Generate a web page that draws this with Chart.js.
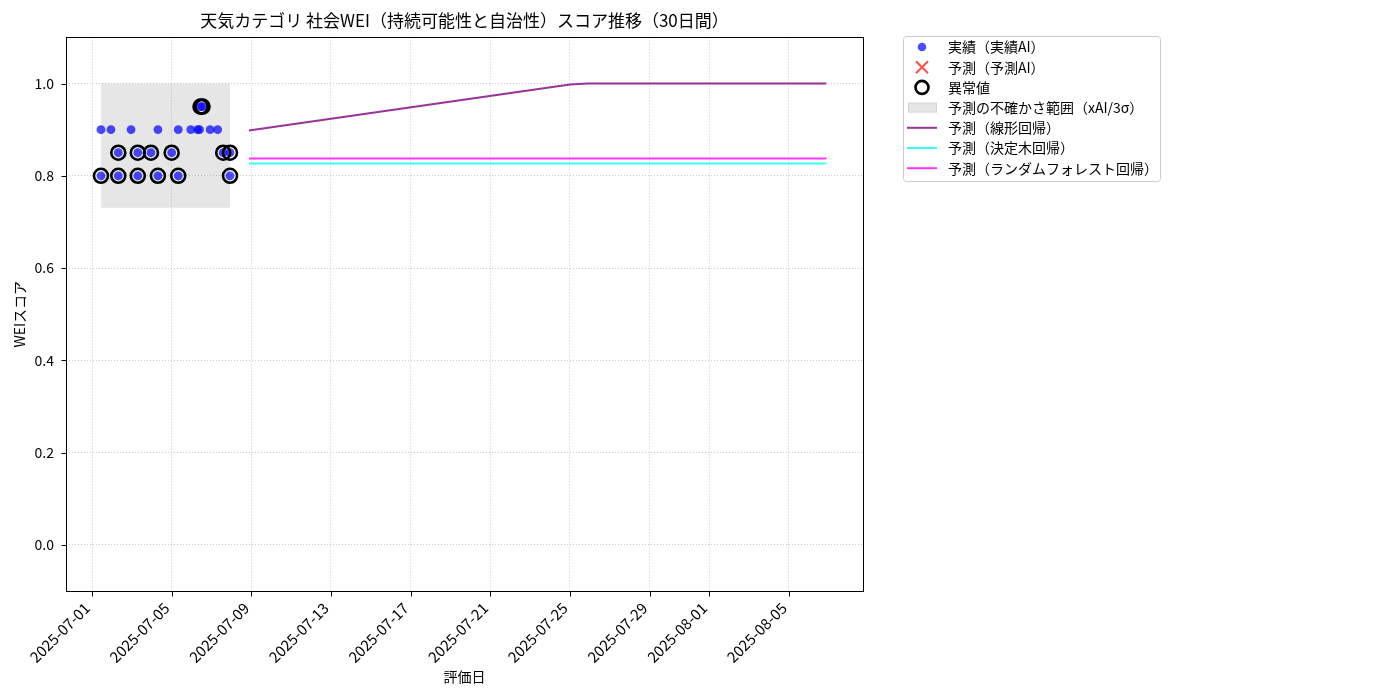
<!DOCTYPE html>
<html><head><meta charset="utf-8">
<script src="https://cdn.jsdelivr.net/npm/chart.js@4"></script>
<style>html,body{margin:0;padding:0;background:#fff}</style>
</head><body>
<canvas id="c" width="1400" height="700" style="display:block;width:1400px;height:700px"></canvas>
<script>
const chartTitle = "天気カテゴリ 社会WEI（持続可能性と自治性）スコア推移（30日間）";
const xAxisTitle = "評価日";
const yAxisTitle = "WEIスコア";
// x values are days counted from 2025-07-01
const xTickDays = [0, 4, 8, 12, 16, 20, 24, 28, 31, 35];
const xTickLabels = ["2025-07-01","2025-07-05","2025-07-09","2025-07-13","2025-07-17","2025-07-21","2025-07-25","2025-07-29","2025-08-01","2025-08-05"];
const yTicks = [0.0, 0.2, 0.4, 0.6, 0.8, 1.0];

const actualDays   = [0.45, 0.45, 0.95, 1.32, 1.32, 1.96, 2.30, 2.30, 2.96, 3.31, 3.31, 4.00, 4.33, 4.33, 4.96, 5.30, 5.40, 5.45, 5.55, 5.93, 6.31, 6.59, 6.93, 6.93];
const actualScores = [0.90, 0.80, 0.90, 0.85, 0.80, 0.90, 0.85, 0.80, 0.85, 0.90, 0.80, 0.85, 0.90, 0.80, 0.90, 0.90, 0.90, 0.95, 0.95, 0.90, 0.90, 0.85, 0.85, 0.80];

const anomalyDays   = [0.45, 1.32, 1.32, 2.30, 2.30, 2.96, 3.31, 4.00, 4.33, 5.45, 5.55, 6.59, 6.93, 6.93];
const anomalyScores = [0.80, 0.85, 0.80, 0.85, 0.80, 0.85, 0.80, 0.85, 0.80, 0.95, 0.95, 0.85, 0.85, 0.80];

const bandDays  = [0.45, 6.93];
const bandUpper = [1.00, 1.00];
const bandLower = [0.731, 0.731];

const predDays   = [7.88, 24.0, 24.9, 36.88];
const predLinear = [0.898, 0.998, 1.0, 1.0];
const predTree   = [0.8265, 0.8265, 0.8265, 0.8265];
const predForest = [0.8373, 0.8373, 0.8373, 0.8373];

const legendLabels = ["実績（実績AI）","予測（予測AI）","異常値","予測の不確かさ範囲（xAI/3σ）","予測（線形回帰）","予測（決定木回帰）","予測（ランダムフォレスト回帰）"];

const FONT = "'Noto Sans CJK JP', 'Noto Sans', sans-serif";
Chart.defaults.font.family = FONT;
Chart.defaults.color = '#000';

const zip = (xs, ys) => xs.map((x, i) => ({x: x, y: ys[i]}));
const GRID = 'rgba(176,176,176,0.85)';

const extras = {
  id: 'extras',
  afterDraw(chart) {
    const ctx = chart.ctx, a = chart.chartArea;
    const xs = chart.scales.x, ys = chart.scales.y;
    ctx.save();
    ctx.strokeStyle = '#000'; ctx.lineWidth = 1;
    const L = Math.round(a.left) + 0.5, R = Math.round(a.right) + 0.5, T = Math.round(a.top) + 0.5, B = Math.round(a.bottom) + 0.5;
    ctx.strokeRect(L, T, R - L, B - T);
    ctx.beginPath();
    xTickDays.forEach(v => { const px = Math.round(xs.getPixelForValue(v)) + 0.5; ctx.moveTo(px, B); ctx.lineTo(px, B + 5); });
    yTicks.forEach(v => { const py = Math.round(ys.getPixelForValue(v)) + 0.5; ctx.moveTo(L - 5, py); ctx.lineTo(L, py); });
    ctx.stroke();

    // legend
    const lx = 903.5, ly = 36.5, lw = 257, lh = 145;
    ctx.beginPath();
    if (ctx.roundRect) ctx.roundRect(lx, ly, lw, lh, 3); else ctx.rect(lx, ly, lw, lh);
    ctx.fillStyle = 'rgba(255,255,255,0.8)'; ctx.fill();
    ctx.strokeStyle = '#cccccc'; ctx.lineWidth = 1; ctx.stroke();
    const mx = 922, tx = 948, y0 = 47, step = 20.2;
    ctx.font = "14px " + FONT; ctx.textBaseline = 'middle'; ctx.textAlign = 'left';
    legendLabels.forEach((t, i) => {
      const y = y0 + i * step;
      if (i === 0) { ctx.beginPath(); ctx.arc(mx, y, 4.3, 0, Math.PI*2); ctx.fillStyle = 'rgba(0,0,255,0.7)'; ctx.fill(); }
      if (i === 1) { ctx.beginPath(); ctx.moveTo(mx-6, y-6); ctx.lineTo(mx+6, y+6); ctx.moveTo(mx+6, y-6); ctx.lineTo(mx-6, y+6); ctx.strokeStyle = 'rgba(255,0,0,0.7)'; ctx.lineWidth = 2; ctx.stroke(); }
      if (i === 2) { ctx.beginPath(); ctx.arc(mx, y, 6.5, 0, Math.PI*2); ctx.strokeStyle = '#000'; ctx.lineWidth = 2.6; ctx.stroke(); }
      if (i === 3) { ctx.fillStyle = 'rgba(128,128,128,0.2)'; ctx.fillRect(908, y-5, 29, 10); ctx.strokeStyle = 'rgba(128,128,128,0.2)'; ctx.lineWidth = 1; ctx.strokeRect(908.5, y-4.5, 28, 9); }
      if (i >= 4) {
        const c = ['rgba(128,0,128,0.8)','rgba(0,255,255,0.8)','rgba(255,0,255,0.8)'][i-4];
        ctx.beginPath(); ctx.moveTo(907, y); ctx.lineTo(937, y); ctx.strokeStyle = c; ctx.lineWidth = 2; ctx.stroke();
      }
      ctx.fillStyle = '#000'; ctx.fillText(t, tx, y);
    });
    ctx.restore();
  }
};

new Chart(document.getElementById('c'), {
  type: 'scatter',
  data: {
    datasets: [
      { label: '異常値', data: zip(anomalyDays, anomalyScores), pointRadius: 7, pointBorderWidth: 2.6, pointBackgroundColor: 'rgba(0,0,0,0)', pointBorderColor: '#000', order: 0 },
      { label: '実績', data: zip(actualDays, actualScores), pointRadius: 4.4, pointBorderWidth: 0, pointBackgroundColor: 'rgba(0,0,255,0.7)', pointBorderColor: 'rgba(0,0,255,0)', order: 1 },
      { type: 'line', label: '線形', data: zip(predDays, predLinear), borderColor: 'rgba(128,0,128,0.8)', borderWidth: 2, pointRadius: 0, fill: false, tension: 0, order: 2 },
      { type: 'line', label: '決定木', data: zip(predDays, predTree), borderColor: 'rgba(0,255,255,0.8)', borderWidth: 2, pointRadius: 0, fill: false, order: 2 },
      { type: 'line', label: 'RF', data: zip(predDays, predForest), borderColor: 'rgba(255,0,255,0.8)', borderWidth: 2, pointRadius: 0, fill: false, order: 2 },
      { type: 'line', label: 'band-up', data: zip(bandDays, bandUpper), borderWidth: 0, borderColor: 'rgba(0,0,0,0)', pointRadius: 0, fill: '+1', backgroundColor: 'rgba(128,128,128,0.2)', order: 3 },
      { type: 'line', label: 'band-low', data: zip(bandDays, bandLower), borderWidth: 0, borderColor: 'rgba(0,0,0,0)', pointRadius: 0, fill: false, order: 3 }
    ]
  },
  options: {
    responsive: false, animation: false, devicePixelRatio: 1,
    layout: { padding: { left: 0, right: 537, top: 0, bottom: 0 } },
    plugins: {
      legend: { display: false }, tooltip: { enabled: false },
      title: { display: true, text: chartTitle, fullSize: false, color: '#000', font: { size: 17, weight: 'normal' }, padding: { top: 10, bottom: 7 } }
    },
    scales: {
      x: {
        type: 'linear', min: -1.306, max: 38.717,
        afterBuildTicks: s => { s.ticks = xTickDays.map(v => ({ value: v })); },
        afterFit: s => { s.height = 109; },
        ticks: { autoSkip: false, maxRotation: 45, minRotation: 45, padding: 8, labelOffset: -5, color: '#000', font: { size: 15 },
          callback: v => { const i = xTickDays.indexOf(v); return i >= 0 ? xTickLabels[i] : ''; } },
        grid: { color: GRID, lineWidth: 0.8, drawTicks: false },
        border: { display: false, dash: [1, 2] },
        title: { display: true, text: xAxisTitle, color: '#000', font: { size: 14 }, padding: { top: 0, bottom: 15 } }
      },
      y: {
        min: -0.1, max: 1.1,
        afterBuildTicks: s => { s.ticks = yTicks.map(v => ({ value: v })); },
        afterFit: s => { s.width = 66; },
        ticks: { padding: 12, color: '#000', font: { size: 14 }, callback: v => Number(v).toFixed(1) },
        grid: { color: GRID, lineWidth: 0.8, drawTicks: false },
        border: { display: false, dash: [1, 2] },
        title: { display: true, text: yAxisTitle, color: '#000', font: { size: 14 }, padding: { top: 11, bottom: 0 } }
      }
    }
  },
  plugins: [extras]
});
</script>
</body></html>
